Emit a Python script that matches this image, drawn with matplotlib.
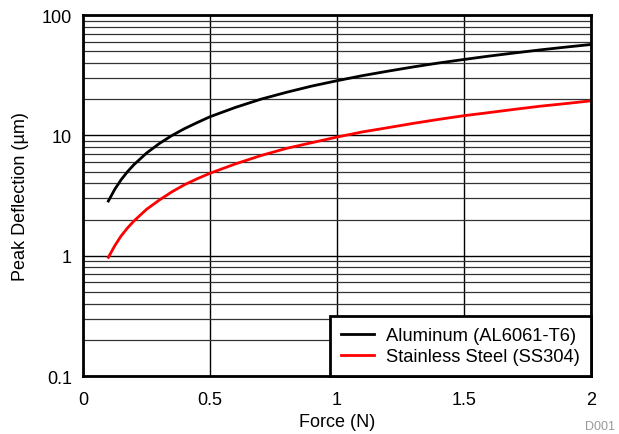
import matplotlib.pyplot as plt
from matplotlib.ticker import LogLocator, FixedLocator, NullFormatter

plt.rcParams['font.family'] = ['Liberation Sans', 'DejaVu Sans']

force = [0.1, 0.125, 0.15, 0.175, 0.2, 0.25, 0.3, 0.35, 0.4, 0.45, 0.5, 0.6, 0.7, 0.8, 0.9, 1.0,
         1.1, 1.2, 1.3, 1.4, 1.5, 1.6, 1.7, 1.8, 1.9, 2.0]
aluminum = [2.85, 3.56, 4.28, 4.99, 5.7, 7.13, 8.55, 9.98, 11.4, 12.8, 14.3, 17.1, 20.0, 22.8, 25.7, 28.5,
            31.4, 34.2, 37.1, 40.0, 42.8, 45.7, 48.5, 51.4, 54.2, 57.0]
steel = [0.97, 1.21, 1.46, 1.70, 1.94, 2.43, 2.9, 3.4, 3.9, 4.37, 4.85, 5.8, 6.8, 7.8, 8.7, 9.7,
         10.7, 11.6, 12.6, 13.6, 14.6, 15.5, 16.5, 17.5, 18.4, 19.4]
xticks = [0, 0.5, 1, 1.5, 2]
xticklabels = ['0', '0.5', '1', '1.5', '2']
yticks = [0.1, 1, 10, 100]
yticklabels = ['0.1', '1', '10', '100']

fig = plt.figure(figsize=(6.19, 4.35), dpi=100)
ax = fig.add_axes([0.134, 0.133, 0.821, 0.830])

ax.plot(force, aluminum, color='black', lw=2, label='Aluminum (AL6061-T6)')
ax.plot(force, steel, color='#ff0000', lw=2, label='Stainless Steel (SS304)')

ax.set_yscale('log')
ax.set_xlim(0, 2)
ax.set_ylim(0.1, 100)
ax.xaxis.set_major_locator(FixedLocator(xticks))
ax.set_xticklabels(xticklabels)
ax.yaxis.set_major_locator(FixedLocator(yticks))
ax.set_yticklabels(yticklabels)
ax.yaxis.set_minor_locator(LogLocator(base=10, subs=range(2, 10)))
ax.yaxis.set_minor_formatter(NullFormatter())

ax.grid(True, which='major', color='black', lw=1)
ax.grid(True, which='minor', axis='y', color='#333333', lw=0.9)
ax.tick_params(which='both', length=0, labelsize=13)
ax.tick_params(axis='x', pad=11)
ax.tick_params(axis='y', pad=8)
for s in ax.spines.values():
    s.set_linewidth(2)

ax.set_xlabel('Force (N)', fontsize=13, labelpad=3)
ax.set_ylabel('Peak Deflection (µm)', fontsize=13, labelpad=9)

leg = ax.legend(loc='lower right', bbox_to_anchor=(1.0, 0.0), borderaxespad=0,
                fontsize=13.2, fancybox=False, framealpha=1, handlelength=1.8,
                handletextpad=0.65, labelspacing=0.2, borderpad=0.6)
leg.get_frame().set_edgecolor('black')
leg.get_frame().set_linewidth(2)

fig.text(0.993, 0.005, 'D001', color='#999999', fontsize=9, ha='right', va='bottom')

fig.savefig('out.png', dpi=100)
